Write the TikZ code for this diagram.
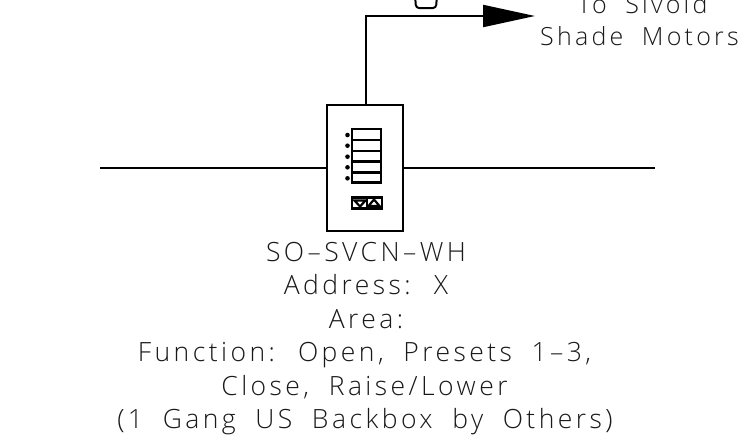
\documentclass[tikz,border=0pt]{standalone}
\usepackage{fontspec}
\usepackage{xcolor}
\usepackage{tikz}
\usetikzlibrary{arrows.meta}
\newfontfamily\cadfont[LetterSpace=13,WordSpace=1.9]{Open Sans Light}

\begin{document}
\begin{tikzpicture}[x=1pt, y=-1pt, line width=2pt,
        plate/.style={rectangle, draw, inner sep=0pt},
        button/.style={plate, line width=2.4pt, minimum width=29pt, minimum height=11pt},
        label/.style={anchor=base, inner sep=0pt, font=\cadfont\fontsize{26.5}{26.5}\selectfont, text=black!90},
        note/.style={label, font=\cadfont\fontsize{25}{25}\selectfont}]
        \useasboundingbox (0,0) rectangle (738,434);

        \node[plate, minimum width=76pt, minimum height=126pt] (box) at (365,168) {};
        \node[button] (btnA) at (366.2,134.2) {};
        \node[button] (btnB) at (366.2,145.3) {};
        \node[button] (btnC) at (366.2,156.2) {};
        \node[button] (btnD) at (366.2,167) {};
        \node[button, minimum height=10pt] (btnE) at (366.2,177.3) {};
        \node[button, minimum width=15pt] (down) at (359.2,202.8) {};
        \node[button, minimum width=15pt] (up) at (374.2,202.8) {};

        \foreach \y in {135,145.7,156.7,167.3,178.3}
            \fill (347.5,\y) circle (2.3pt);

        \draw[line width=2.2pt] (360,206.5) -- (354.5,200.5) -- (365.5,200.5) -- cycle;
        \draw[line width=2.2pt] (374,199.5) -- (368.5,206) -- (379.5,206) -- cycle;

        \coordinate (wireL) at (100,168);
        \coordinate (wireR) at (655,168);
        \coordinate (tip) at (535,16);
        \draw (wireL) -- (wireL -| box.west);
        \draw (wireR -| box.east) -- (wireR);
        \draw[-{Triangle[length=52pt, width=22pt]}] (366,105) |- (tip);

        \draw[rounded corners=3pt] (415,-5) -- (416,8) -- (436,8) -- (437,-5);

        \node[note] (toA) at (642.5,13) {To Sivold};
        \node[note] (toB) at (639.5,45) {Shade Motors};
        \node[label] (model) at (366,261) {SO\textendash SVCN\textendash WH};
        \node[label] (addr) at (366,294.5) {Address: X};
        \node[label] (area) at (366,328) {Area:};
        \node[label] (func) at (364.5,361.5) {Function: Open, Presets 1\textendash 3,};
        \node[label] (close) at (364.5,395) {Close, Raise/Lower};
        \node[label] (gang) at (365,428.5) {(1 Gang US Backbox by Others)};
    \end{tikzpicture}
\end{document}
